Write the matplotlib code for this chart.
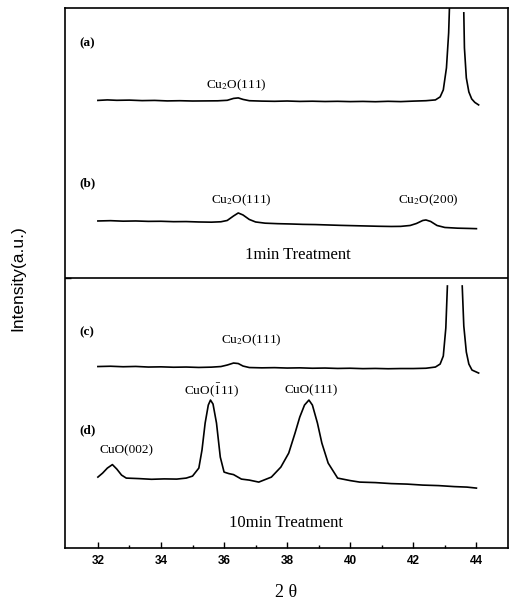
"""
XRD patterns of Cu films after oxidation treatment (1 min / 10 min).
Four stacked traces (a)-(d), two panels split by a horizontal rule.
"""

import numpy as np
import matplotlib.pyplot as plt

plt.rcParams["mathtext.fontset"] = "stix"

# -------------------------------------------------------------------
# Data (2theta in degrees, intensity in arbitrary offset units)
# NaN marks where the original scan ran off the recorder
# -------------------------------------------------------------------
x_a = [32.0, 32.3, 32.6, 33.0, 33.4, 33.8, 34.2, 34.6, 35.0, 35.4, 35.8, 36.1,
       36.3, 36.45, 36.6, 36.8, 37.2, 37.6, 38.0, 38.4, 38.8, 39.2, 39.6, 40.0,
       40.4, 40.8, 41.2, 41.6, 42.0, 42.4, 42.7, 42.85, 42.95, 43.05, 43.12, 43.15,
       np.nan, 43.6, 43.62, 43.68, 43.76, 43.85, 43.95, 44.07]
y_a = [447.5, 448.0, 447.6, 447.8, 447.3, 447.5, 447.0, 447.2, 446.9, 447.0, 447.1, 447.6,
       449.5, 450.0, 448.5, 447.2, 446.8, 446.6, 446.9, 446.5, 446.7, 446.4, 446.6, 446.3,
       446.5, 446.2, 446.6, 446.3, 446.8, 447.2, 448.0, 451.0, 458.0, 480.0, 515.0, 545.0,
       np.nan, 535.0, 500.0, 470.0, 456.0, 449.0, 445.5, 443.0]

x_b = [32.0, 32.4, 32.8, 33.2, 33.6, 34.0, 34.4, 34.8, 35.2, 35.6, 35.9, 36.1,
       36.3, 36.45, 36.6, 36.8, 37.0, 37.3, 37.7, 38.1, 38.5, 38.9, 39.3, 39.7,
       40.1, 40.5, 40.9, 41.3, 41.6, 41.9, 42.1, 42.3, 42.4, 42.55, 42.75, 43.0,
       43.4, 43.8, 44.0]
y_b = [327.0, 327.3, 326.8, 327.0, 326.6, 326.7, 326.3, 326.4, 326.0, 325.8, 326.2, 327.5,
       332.0, 335.0, 333.0, 328.5, 326.0, 324.8, 324.3, 324.0, 323.6, 323.4, 323.0, 322.6,
       322.3, 322.0, 321.7, 321.5, 321.6, 322.5, 324.5, 327.5, 328.0, 326.5, 322.5, 320.5,
       319.8, 319.5, 319.3]

x_c = [32.0, 32.4, 32.8, 33.2, 33.6, 34.0, 34.4, 34.8, 35.2, 35.6, 35.9, 36.1,
       36.3, 36.45, 36.6, 36.8, 37.2, 37.6, 38.0, 38.4, 38.8, 39.2, 39.6, 40.0,
       40.4, 40.8, 41.2, 41.6, 42.0, 42.4, 42.7, 42.85, 42.95, 43.03, 43.08,
       np.nan, 43.55, 43.6, 43.68, 43.76, 43.86, 44.07]
y_c = [181.5, 181.8, 181.3, 181.6, 181.0, 181.2, 180.8, 181.0, 180.6, 180.9, 181.5, 183.0,
       185.0, 184.5, 182.0, 180.5, 180.2, 180.4, 180.0, 180.2, 179.8, 180.0, 179.6, 179.8,
       179.4, 179.6, 179.3, 179.5, 179.5, 179.8, 181.0, 184.0, 192.0, 220.0, 262.0,
       np.nan, 262.0, 222.0, 196.0, 184.0, 178.0, 175.0]

x_d = [32.0, 32.15, 32.3, 32.46, 32.6, 32.75, 32.9, 33.3, 33.7, 34.1, 34.5, 34.8,
       35.0, 35.2, 35.3, 35.4, 35.5, 35.57, 35.65, 35.76, 35.88, 36.0, 36.15, 36.3,
       36.55, 36.8, 37.1, 37.5, 37.8, 38.05, 38.25, 38.4, 38.55, 38.69, 38.8, 38.96,
       39.1, 39.3, 39.6, 40.0, 40.3, 40.8, 41.3, 41.8, 42.3, 42.8, 43.3, 43.7, 44.0]
y_d = [71.0, 75.0, 80.0, 83.5, 79.0, 73.0, 70.0, 69.5, 68.8, 69.2, 69.0, 70.0,
       72.0, 80.0, 98.0, 125.0, 143.0, 148.0, 144.0, 125.0, 91.0, 76.0, 74.5, 73.5,
       69.0, 68.0, 66.0, 71.0, 81.0, 95.0, 115.0, 131.0, 143.0, 148.0, 143.0, 125.0,
       105.0, 85.0, 70.0, 67.5, 66.0, 65.5, 64.5, 64.0, 63.0, 62.5, 61.5, 61.0, 60.0]

traces = [(x_a, y_a), (x_b, y_b), (x_c, y_c), (x_d, y_d)]

# trace tags and peak annotations: (text, x, y)
tags = [("(a)", 31.42, 505), ("(b)", 31.42, 365), ("(c)", 31.42, 216), ("(d)", 31.42, 118)]
peak_labels = [
    ("Cu$_2$O(111)", 36.39, 463),
    ("Cu$_2$O(111)", 36.55, 348),
    ("Cu$_2$O(200)", 42.48, 348),
    ("Cu$_2$O(111)", 36.86, 208),
    ("CuO($\\bar{1}$11)", 35.6, 158),
    ("CuO(111)", 38.76, 158),
    ("CuO(002)", 32.92, 98),
]
panel_titles = [("1min Treatment", 38.35, 293), ("10min Treatment", 37.97, 25)]
divider_y = 270

# -------------------------------------------------------------------
# Plot
# -------------------------------------------------------------------
fig = plt.figure(figsize=(5.1, 6.05), dpi=100)
ax = fig.add_axes([0.127, 0.094, 0.869, 0.893])

for xs, ys in traces:
    ax.plot(xs, ys, color="black", lw=1.2)

ax.axhline(divider_y, color="black", lw=1.2)

serif = "Liberation Serif"
for t, x, y in tags:
    ax.text(x, y, t, family=serif, fontsize=9.5, fontweight="bold",
            ha="left", va="center")
for t, x, y in peak_labels:
    ax.text(x, y, t, family=serif, fontsize=9.5, ha="center", va="center")
for t, x, y in panel_titles:
    ax.text(x, y, t, family=serif, fontsize=12, ha="center", va="center")

ax.set_xlim(30.95, 45.0)
ax.set_ylim(0, 540)
ax.set_xticks(np.arange(32, 45, 2))
ax.set_xticks(np.arange(33, 45, 2), minor=True)
ax.set_yticks([divider_y])
ax.set_yticklabels([])
ax.tick_params(axis="x", which="major", direction="in", length=4, width=1, pad=5)
ax.tick_params(axis="x", which="minor", direction="in", length=2, width=1)
ax.tick_params(axis="y", direction="in", length=4, width=1)
for lab in ax.get_xticklabels():
    lab.set_fontfamily("Liberation Sans")
    lab.set_fontweight("bold")
    lab.set_fontsize(8.5)
for s in ax.spines.values():
    s.set_linewidth(1.2)

ax.set_xlabel("2 θ", family=serif, fontsize=13, labelpad=12)
ax.set_ylabel("Intensity(a.u.)", family="Liberation Sans", fontsize=12.5)
ax.yaxis.set_label_coords(-0.09, 0.5)

fig.savefig("out.png", dpi=100)
